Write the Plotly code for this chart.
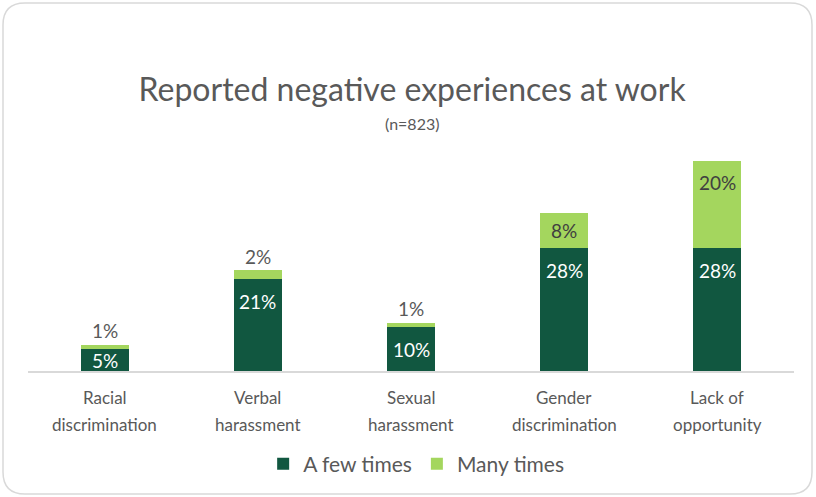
import plotly.graph_objects as go

categories = ["Racial<br>discrimination", "Verbal<br>harassment", "Sexual<br>harassment",
              "Gender<br>discrimination", "Lack of<br>opportunity"]
few_times = [5, 21, 10, 28, 28]
many_times = [1, 2, 1, 8, 20]
series_names = ["A few times", "Many times"]

DARK = "#115740"
LIGHT = "#A4D65E"
GREY = "#595959"
FONT = "Lato"

W, H = 816, 497
ML, MR, MT, MB = 28, 22, 152, 126
PW, PH = W - ML - MR, H - MT - MB
Y_MAX = 50
PX_PER_UNIT = PH / Y_MAX


def px_x(px):
    return (px - ML) / PW


def px_y(py):
    return (H - MB - py) / PH


def rounded_rect(x0, y0, x1, y1, r):
    # rounded frame, corners given in pixels, path in paper coordinates
    return " ".join([
        f"M {px_x(x0 + r)} {px_y(y0)}",
        f"L {px_x(x1 - r)} {px_y(y0)}",
        f"Q {px_x(x1)} {px_y(y0)} {px_x(x1)} {px_y(y0 + r)}",
        f"L {px_x(x1)} {px_y(y1 - r)}",
        f"Q {px_x(x1)} {px_y(y1)} {px_x(x1 - r)} {px_y(y1)}",
        f"L {px_x(x0 + r)} {px_y(y1)}",
        f"Q {px_x(x0)} {px_y(y1)} {px_x(x0)} {px_y(y1 - r)}",
        f"L {px_x(x0)} {px_y(y0 + r)}",
        f"Q {px_x(x0)} {px_y(y0)} {px_x(x0 + r)} {px_y(y0)} Z",
    ])


fig = go.Figure()
fig.add_trace(go.Bar(
    x=categories, y=few_times, name=series_names[0],
    marker=dict(color=DARK, line=dict(width=0)), hoverinfo="skip",
))
fig.add_trace(go.Bar(
    x=categories, y=many_times, name=series_names[1],
    marker=dict(color=LIGHT, line=dict(width=0)), hoverinfo="skip",
))

annotations = []
# value labels: inside near the top of each segment, above the bar when the segment is thin
for cat, low, high in zip(categories, few_times, many_times):
    seg_px = low * PX_PER_UNIT
    annotations.append(dict(x=cat, y=low, text=f"{low}%", xref="x", yref="y",
                            showarrow=False, yanchor="middle",
                            yshift=-min(22, seg_px / 2),
                            font=dict(family=FONT, size=19, color="white")))
    top = low + high
    seg_px = high * PX_PER_UNIT
    if seg_px < 20:
        annotations.append(dict(x=cat, y=top, text=f"{high}%", xref="x", yref="y",
                                showarrow=False, yanchor="middle", yshift=14,
                                font=dict(family=FONT, size=19, color=GREY)))
    else:
        annotations.append(dict(x=cat, y=top, text=f"{high}%", xref="x", yref="y",
                                showarrow=False, yanchor="middle",
                                yshift=-min(22, seg_px / 2),
                                font=dict(family=FONT, size=19, color="#404040")))

# category names, two lines with wider spacing than the default line height
for cat in categories:
    for i, line in enumerate(cat.split("<br>")):
        annotations.append(dict(x=cat, y=0, xref="x", yref="y", text=line,
                                showarrow=False, yanchor="middle",
                                yshift=-(26 + 27 * i),
                                font=dict(family=FONT, size=17, color=GREY)))

annotations.append(dict(text="(n=823)", xref="paper", yref="paper",
                        x=px_x(412), y=px_y(123), xanchor="center", yanchor="middle",
                        showarrow=False, font=dict(family=FONT, size=16, color=GREY)))

fig.update_layout(
    width=W, height=H,
    margin=dict(l=ML, r=MR, t=MT, b=MB),
    paper_bgcolor="white", plot_bgcolor="white",
    barmode="stack", bargap=0.686,
    font=dict(family=FONT, color=GREY),
    title=dict(text="Reported negative experiences at work",
               font=dict(family=FONT, size=32, color=GREY, weight=400),
               x=0.505, xanchor="center", y=1 - 90 / H, yanchor="middle",
               xref="container", yref="container"),
    annotations=annotations,
    legend=dict(orientation="h", xref="container", yref="container",
                x=0.51, xanchor="center", y=1 - 464 / H, yanchor="middle",
                font=dict(family=FONT, size=21, color=GREY), traceorder="normal",
                itemwidth=30),
    xaxis=dict(showline=True, linecolor="#D9D9D9", linewidth=2, ticks="",
               showticklabels=False, fixedrange=True),
    yaxis=dict(range=[0, Y_MAX], visible=False, showgrid=False, fixedrange=True),
    shapes=[dict(type="path", xref="paper", yref="paper",
                 path=rounded_rect(3, 3, 812, 494, 22),
                 line=dict(color="#D9D9D9", width=1.5), layer="below")],
    showlegend=True,
)

fig.write_html("out.html")
